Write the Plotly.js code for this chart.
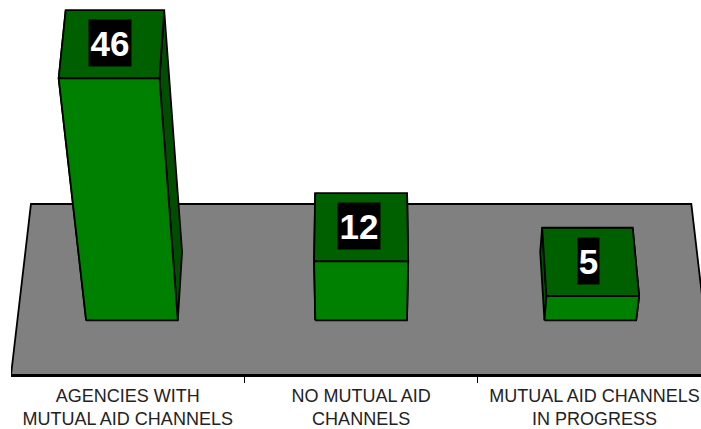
<!DOCTYPE html>
<html><head><meta charset="utf-8">
<script src="https://cdn.plot.ly/plotly-3.0.1.min.js"></script>
<style>html,body{margin:0;padding:0;background:#fff}</style></head>
<body><div id="chart" style="width:701px;height:429px"></div>
<script>
const categories = ["AGENCIES WITH<br>MUTUAL AID CHANNELS", "NO MUTUAL AID<br>CHANNELS", "MUTUAL AID CHANNELS<br>IN PROGRESS"];
const values = [46, 12, 5];
const positions = [0, 1, 2];
const boundaries = [0.5, 1.5];

// Oblique 3-D projection of the original chart
const riseK = 0.00217, depthK = 0.057, depthUnits = 35.77, pxPerUnit = 4.78;
const halfWidth = 0.2, dFront = 0.32, dBack = 0.72;
function pt(cat, v, d) {
  const s = 1 + riseK * v;
  return [1 + (cat - 1) * (1 - depthK * d) * s, v * s + depthUnits * d];
}
function poly(points, fill) {
  const p = points.concat([points[0]]);
  return {type:'scatter', mode:'lines', xaxis:'x2', yaxis:'y', x:p.map(q=>q[0]), y:p.map(q=>q[1]),
    fill:'toself', fillcolor:fill, line:{color:'#000', width:1.8}, hoverinfo:'skip', showlegend:false};
}
const traces = [poly([pt(-0.5,0,0), pt(2.5,0,0), pt(2.5,0,1), pt(-0.5,0,1)], '#808080')];
const annotations = [];
positions.forEach((c,i)=>{
  const v = values[i], L = c-halfWidth, R = c+halfWidth;
  traces.push(poly([pt(L,0,dFront),pt(L,v,dFront),pt(L,v,dBack),pt(L,0,dBack)], '#004f00'));
  traces.push(poly([pt(R,0,dFront),pt(R,v,dFront),pt(R,v,dBack),pt(R,0,dBack)], '#004f00'));
  traces.push(poly([pt(L,v,dFront),pt(R,v,dFront),pt(R,v,dBack),pt(L,v,dBack)], '#006000'));
  traces.push(poly([pt(L,0,dFront),pt(R,0,dFront),pt(R,v,dFront),pt(L,v,dFront)], '#008000'));
  const lab = pt(c, v, 0.5*(dFront+dBack));
  annotations.push({xref:'x2', yref:'y', x:lab[0], y:lab[1], xshift:-2, yshift:1, text:String(v), showarrow:false,
    font:{family:'Liberation Sans', size:35, color:'#fff', weight:'bold'}, bgcolor:'#000',
    width:21*String(v).length, height:46, borderpad:0, align:'center', valign:'middle'});
});
const xRange = [-0.5, 2.456];
const layout = {
  width:701, height:429, margin:{l:11, r:0, t:0, b:54}, paper_bgcolor:'#fff', plot_bgcolor:'#fff',
  showlegend:false, annotations,
  xaxis:{type:'linear', range:xRange, showgrid:false, zeroline:false, showline:true, linecolor:'#000', linewidth:1.5,
    tickmode:'array', tickvals:boundaries, ticktext:['',''], ticks:'outside', ticklen:6, tickcolor:'#000', tickwidth:1},
  xaxis2:{type:'linear', overlaying:'x', anchor:'y', side:'bottom', range:xRange, showgrid:false, zeroline:false,
    tickmode:'array', tickvals:positions, ticktext:categories, ticks:'outside', ticklen:4, tickcolor:'rgba(0,0,0,0)', tickangle:0,
    tickfont:{family:'Liberation Sans', size:18, color:'#222'}},
  yaxis:{range:[0, 375/pxPerUnit], visible:false, fixedrange:true}
};
traces.unshift({type:'scatter', x:[0], y:[0], xaxis:'x', yaxis:'y', mode:'none', hoverinfo:'skip', showlegend:false});
Plotly.newPlot('chart', traces, layout, {displayModeBar:false, staticPlot:true});
</script></body></html>
